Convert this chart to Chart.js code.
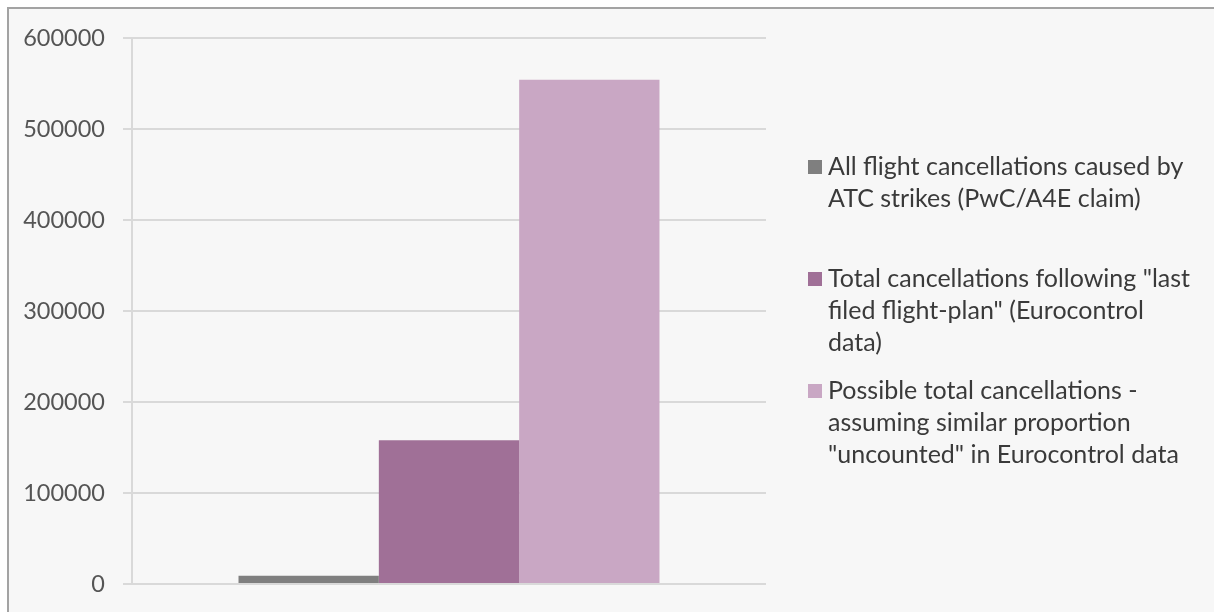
<!DOCTYPE html>
<html>
<head>
<meta charset="utf-8">
<script src="https://cdn.jsdelivr.net/npm/chart.js@4"></script>
<style>
  html, body { margin: 0; padding: 0; background: #ffffff; }
  #wrap { width: 1214px; height: 612px; }
</style>
</head>
<body>
<div id="wrap"><canvas id="c" width="1214" height="612"></canvas></div>
<script>
const categories = [''];
const seriesLabels = [
  ['All flight cancellations caused by', 'ATC strikes (PwC/A4E claim)'],
  ['Total cancellations following "last', 'filed flight-plan" (Eurocontrol', 'data)'],
  ['Possible total cancellations -', 'assuming similar proportion', '"uncounted" in Eurocontrol data']
];
const seriesValues = [
  [9000],
  [158000],
  [554000]
];
const seriesColors = ['#7f7f7f', '#a07097', '#c9a7c4'];
const yTicks = [0, 100000, 200000, 300000, 400000, 500000, 600000];

const FONT = 'Lato, "Open Sans", "DejaVu Sans", sans-serif';

const bgPlugin = {
  id: 'bg',
  beforeDraw(chart) {
    const ctx = chart.ctx;
    ctx.save();
    ctx.fillStyle = '#ffffff';
    ctx.fillRect(0, 0, chart.width, chart.height);
    ctx.fillStyle = '#f7f7f7';
    ctx.fillRect(8, 8, chart.width - 8, chart.height - 8);
    ctx.strokeStyle = '#a3a3a3';
    ctx.lineWidth = 2;
    ctx.beginPath();
    ctx.moveTo(8, chart.height);
    ctx.lineTo(8, 8);
    ctx.lineTo(chart.width, 8);
    ctx.stroke();
    ctx.restore();
  }
};

// Legend drawn to the right of the plot, one block of wrapped lines per series
const sideLegend = {
  id: 'sideLegend',
  afterDraw(chart) {
    const ctx = chart.ctx;
    const area = chart.chartArea;
    const boxX = area.right + 42;
    const textX = boxX + 20;
    const firstY = 167, itemStep = 112, lineH = 32, box = 14;
    ctx.save();
    ctx.font = '25px ' + FONT;
    ctx.textBaseline = 'middle';
    ctx.textAlign = 'left';
    chart.data.datasets.forEach((ds, i) => {
      const y0 = firstY + i * itemStep;
      ctx.fillStyle = ds.backgroundColor;
      ctx.fillRect(boxX, y0 - box / 2, box, box);
      ctx.fillStyle = '#3a3a3a';
      ds.label.forEach((line, j) => ctx.fillText(line, textX, y0 + j * lineH));
    });
    ctx.restore();
  }
};

new Chart(document.getElementById('c'), {
  type: 'bar',
  data: {
    labels: categories,
    datasets: seriesLabels.map((lab, i) => ({
      label: lab,
      data: seriesValues[i],
      backgroundColor: seriesColors[i],
      borderWidth: 0,
      categoryPercentage: 0.664,
      barPercentage: 1.0
    }))
  },
  options: {
    responsive: false,
    animation: false,
    devicePixelRatio: 1,
    layout: { padding: { top: 38, bottom: 28, left: 10, right: 448 } },
    plugins: {
      legend: { display: false },
      tooltip: { enabled: false }
    },
    scales: {
      x: {
        display: false
      },
      y: {
        min: 0,
        max: 600000,
        afterBuildTicks(s) { s.ticks = yTicks.map(v => ({ value: v })); },
        grid: { color: '#d9d9d9', lineWidth: 2, tickLength: 9, drawTicks: true },
        border: { display: true, color: '#d9d9d9', width: 2 },
        ticks: {
          padding: 18,
          color: '#555555',
          font: { family: FONT, size: 23.5 },
          callback: v => String(v)
        },
        afterFit(s) {
          s.width = 122;
          s.paddingTop = 0;
          s.paddingBottom = 0;
        }
      }
    }
  },
  plugins: [bgPlugin, sideLegend]
});
</script>
</body>
</html>
